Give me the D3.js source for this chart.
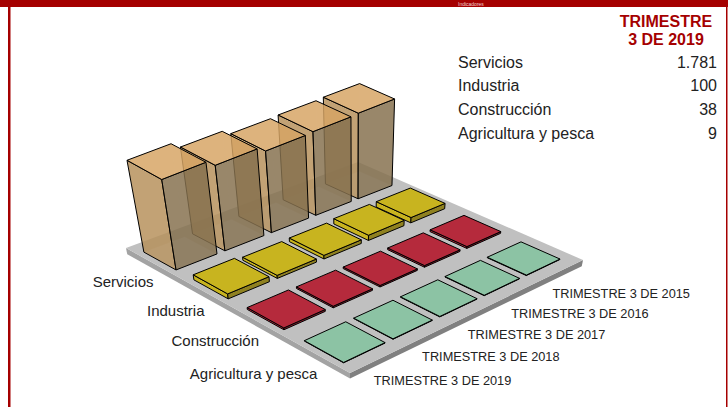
<!DOCTYPE html>
<html>
<head>
<meta charset="utf-8">
<script src="https://cdn.jsdelivr.net/npm/d3@7/dist/d3.min.js"></script>
<style>
  html, body { margin: 0; padding: 0; background: #fff; }
  text { font-family: "Liberation Sans", Arial, sans-serif; }
</style>
</head>
<body>
<div id="chart"></div>
<script>
const width = 728;
const height = 407;

const years = ['TRIMESTRE 3 DE 2019', 'TRIMESTRE 3 DE 2018', 'TRIMESTRE 3 DE 2017', 'TRIMESTRE 3 DE 2016', 'TRIMESTRE 3 DE 2015'];
const categories = ['Servicios', 'Industria', 'Construcción', 'Agricultura y pesca'];
// one value per year, same order as years
const servicios = [1781, 1657, 1557, 1572, 1586];
const industria = [100, 60, 70, 100, 100];
const construccion = [38, 32, 30, 32, 34];
const agricultura = [9, 9, 9, 9, 9];
const seriesValues = [servicios, industria, construccion, agricultura];

const red = '#a50000';

// colours per row: top, left side, right side
const rowColors = [
  { top: '#d9a866', left: '#b8925c', right: '#85704f', opacity: 0.8 },
  { top: '#c8b41f', left: '#c8b41f', right: '#8f8120', opacity: 1 },
  { top: '#b52a3c', left: '#b52a3c', right: '#8a1f2d', opacity: 1 },
  { top: '#8cc3a4', left: '#8cc3a4', right: '#6b9c80', opacity: 1 }
];

const svg = d3.select('#chart')
  .append('svg')
  .attr('width', width)
  .attr('height', height)
  .style('display', 'block');

// Frame
svg.append('rect').attr('x', 0).attr('y', 0).attr('width', width).attr('height', 7).attr('fill', red);
svg.append('rect').attr('x', 8).attr('y', 0).attr('width', 2.5).attr('height', height).attr('fill', red);
svg.append('rect').attr('x', 726).attr('y', 0).attr('width', 1.5).attr('height', height).attr('fill', red);
svg.append('text').attr('x', 458).attr('y', 5.5).attr('font-size', 5).attr('fill', '#f0d0d0').text('Indicadores');

// Floor corners on screen: left, back, right, front
const floorCorners = [[126, 248], [358, 162], [583, 260], [350, 373]];

// square to quad mapping for the floor plane
const makePlane = ([[x0, y0], [x1, y1], [x2, y2], [x3, y3]]) => {
  const dx1 = x1 - x2, dx2 = x3 - x2, dy1 = y1 - y2, dy2 = y3 - y2;
  const sx = x0 - x1 + x2 - x3, sy = y0 - y1 + y2 - y3;
  const den = dx1 * dy2 - dx2 * dy1;
  const g = (sx * dy2 - dx2 * sy) / den;
  const h = (dx1 * sy - sx * dy1) / den;
  const a = x1 - x0 + g * x1, b = x3 - x0 + h * x3;
  const d = y1 - y0 + g * y1, e = y3 - y0 + h * y3;
  return (u, v) => {
    const w = g * u + h * v + 1;
    return [(a * u + b * v + x0) / w, (d * u + e * v + y0) / w];
  };
};
const plane = makePlane(floorCorners);

// verticals converge on a point far under the chart
const vanish = [355, 1400];
const lift = d3.scaleLinear().domain([0, 1781]).range([0, 0.08]);

const project = (u, v, value) => {
  const [x, y] = plane(u, v);
  const t = 1 + lift(value);
  return [vanish[0] + (x - vanish[0]) * t, vanish[1] + (y - vanish[1]) * t];
};

const xBand = d3.scaleBand().domain(years).range([0.024, 0.949]).paddingInner(0.165);
const yBand = d3.scaleBand().domain(categories).range([0.059, 0.95]).paddingInner(0.35);

const pathOf = d3.line();
const poly = (g, pts, fill, opts = {}) => g.append('path')
  .attr('d', pathOf(pts) + 'Z')
  .attr('fill', fill)
  .attr('fill-opacity', opts.opacity === undefined ? 1 : opts.opacity)
  .attr('stroke', opts.stroke || 'none')
  .attr('stroke-width', opts.stroke ? 1 : 0)
  .attr('stroke-linejoin', 'round');

// Floor
const floor = svg.append('g').attr('class', 'floor');
const floorDepth = -120;
poly(floor, [project(0, 0, 0), project(0, 1, 0), project(0, 1, floorDepth), project(0, 0, floorDepth)], '#a3a3a3');
poly(floor, [project(0, 1, 0), project(1, 1, 0), project(1, 1, floorDepth), project(0, 1, floorDepth)], '#808080');
poly(floor, [project(0, 0, 0), project(1, 0, 0), project(1, 1, 0), project(0, 1, 0)], '#c0c0c0');

// Blocks, back row first and far year first
const blocks = svg.append('g').attr('class', 'blocks');
categories.forEach((cat, r) => {
  const c = rowColors[r];
  const v0 = yBand(cat), v1 = v0 + yBand.bandwidth();
  d3.range(years.length - 1, -1, -1).forEach(i => {
    const u0 = xBand(years[i]), u1 = u0 + xBand.bandwidth();
    const h = seriesValues[r][i];
    const g = blocks.append('g').attr('class', 'block');
    const base = [project(u0, v0, 0), project(u1, v0, 0), project(u1, v1, 0), project(u0, v1, 0)];
    const top = [project(u0, v0, h), project(u1, v0, h), project(u1, v1, h), project(u0, v1, h)];
    if (c.opacity < 1) {
      // faces behind show through the glass
      poly(g, [base[0], base[1], top[1], top[0]], '#8a6a3a', { opacity: 0.2 });
      poly(g, [base[1], base[2], top[2], top[1]], '#8a6a3a', { opacity: 0.2 });
    }
    poly(g, [base[0], base[3], top[3], top[0]], c.left, { opacity: c.opacity, stroke: '#000' });
    poly(g, [base[3], base[2], top[2], top[3]], c.right, { opacity: c.opacity, stroke: '#000' });
    poly(g, top, c.top, { opacity: c.opacity, stroke: '#000' });
  });
});

// Row labels along the left edge of the floor
svg.append('g').selectAll('text')
  .data(categories)
  .enter().append('text')
  .attr('x', d => plane(0, yBand(d) + yBand.bandwidth() / 2)[0])
  .attr('y', d => plane(0, yBand(d) + yBand.bandwidth() / 2)[1] + 24)
  .attr('text-anchor', 'end')
  .attr('font-size', 15)
  .attr('fill', '#222')
  .text(d => d);

// Year labels along the right edge of the floor
svg.append('g').selectAll('text')
  .data(years)
  .enter().append('text')
  .attr('x', d => plane(xBand(d) + xBand.bandwidth() / 2, 1)[0] - 3.5)
  .attr('y', d => plane(xBand(d) + xBand.bandwidth() / 2, 1)[1] + 25)
  .attr('font-size', 12.75)
  .attr('fill', '#222')
  .text(d => d);

// Latest quarter table
const fmt = d3.formatLocale({ decimal: ',', thousands: '.', grouping: [3], currency: ['', '€'] }).format(',d');
const titleLines = ['TRIMESTRE', '3 DE 2019'];
svg.append('g').selectAll('text')
  .data(titleLines)
  .enter().append('text')
  .attr('x', 666)
  .attr('y', (d, i) => 27 + i * 18)
  .attr('text-anchor', 'middle')
  .attr('font-size', 16)
  .attr('font-weight', 'bold')
  .attr('fill', red)
  .text(d => d);

const rowY = d3.scalePoint().domain(categories).range([67.5, 138.5]);
const table = svg.append('g').attr('font-size', 16).attr('fill', '#222');
table.selectAll('text.name')
  .data(categories)
  .enter().append('text')
  .attr('class', 'name')
  .attr('x', 458)
  .attr('y', d => rowY(d))
  .text(d => d);
table.selectAll('text.value')
  .data(categories)
  .enter().append('text')
  .attr('class', 'value')
  .attr('x', 717)
  .attr('y', d => rowY(d))
  .attr('text-anchor', 'end')
  .text((d, i) => fmt(seriesValues[i][0]));
</script>
</body>
</html>
